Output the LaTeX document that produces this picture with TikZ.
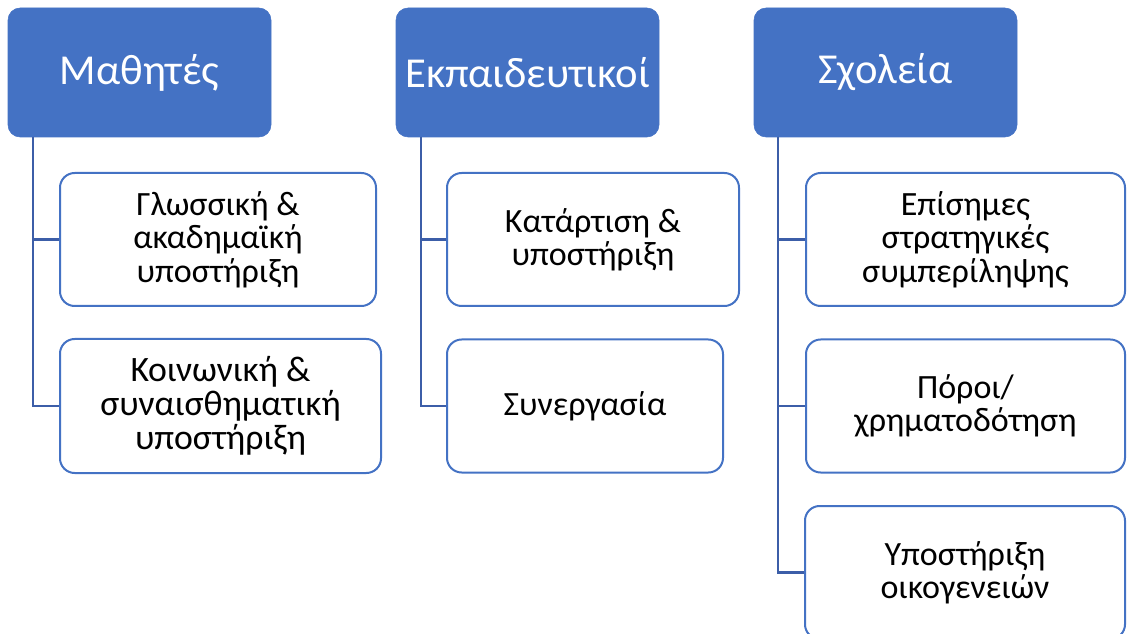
\documentclass[tikz,border=0pt]{standalone}
\usepackage{fontspec}
\setmainfont{Carlito}
\usetikzlibrary{positioning}
\definecolor{headblue}{HTML}{4472C4}
\definecolor{linkblue}{HTML}{3C5EA8}
\tikzset{
  head/.style={fill=headblue, draw=headblue, rounded corners=9pt, text=white,
    minimum width=197.25pt, minimum height=96.75pt, inner sep=0pt,
    font=\fontsize{32}{38}\selectfont},
  item/.style={fill=white, draw=headblue, line width=1.5pt, rounded corners=11pt,
    minimum height=99.75pt, inner sep=0pt, align=center,
    font=\fontsize{25.5}{25}\selectfont},
  link/.style={draw=linkblue, line width=2.2pt}
}
\begin{document}
\begin{tikzpicture}[x=0.75pt,y=-0.75pt]
      \clip (0,0) rectangle (1128,634);
      % headers
      \node[head] (h1) at (139.5,72.5) {Μαθητές};
      \node[head] (h2) at (527.5,72.5) {Εκπαιδευτικοί};
      \node[head] (h3) at (885.5,72.5) {Σχολεία};
      \coordinate (t1) at (33,137);
      \coordinate (t2) at (421,137);
      \coordinate (t3) at (778,137);
      % sub-items
      \node[item, minimum width=237pt] (a1) at (218,239.5) {Γλωσσική \&\\ακαδημαϊκή\\υποστήριξη};
      \node[item, minimum width=240.75pt, minimum height=100.5pt,
        font=\fontsize{26.8}{25.6}\selectfont] (a2) at (220.5,406) {Κοινωνική \&\\συναισθηματική\\υποστήριξη};
      \node[item, minimum width=219pt] (b1) at (593,239.5) {Κατάρτιση \&\\υποστήριξη};
      \node[item, minimum width=207pt] (b2) at (585,406) {Συνεργασία};
      \node[item, minimum width=239.25pt] (c1) at (965.5,239.5) {Επίσημες\\στρατηγικές\\συμπερίληψης};
      \node[item, minimum width=239.25pt] (c2) at (965.5,406) {Πόροι/\\χρηματοδότηση};
      \node[item, minimum width=240pt] (c3) at (965,572.5) {Υποστήριξη\\οικογενειών};
      \foreach \t/\k in {t1/a1,t1/a2,t2/b1,t2/b2,t3/c1,t3/c2,t3/c3}
        \draw[link] (\t) |- (\k.west);
    \end{tikzpicture}
\end{document}
